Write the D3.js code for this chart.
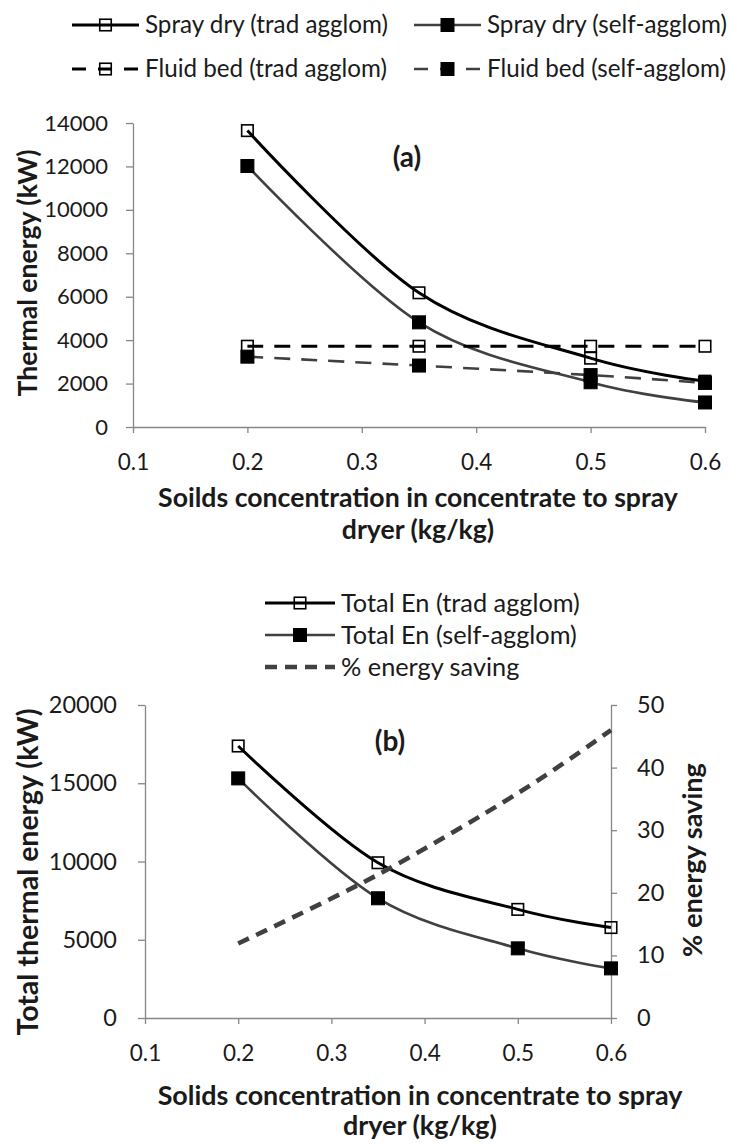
<!DOCTYPE html>
<html>
<head>
<meta charset="utf-8">
<script src="https://cdn.jsdelivr.net/npm/d3@7"></script>
<style>
  body { margin: 0; background: #fff; }
  svg { display: block; }
  text { font-family: Lato, "Open Sans", sans-serif; fill: #1a1a1a; }
</style>
</head>
<body>
<div id="chart"></div>
<script>
// solids concentration (kg/kg)
const xValues = [0.2, 0.35, 0.5, 0.6];

// panel (a) thermal energy, kW
const sprayTrad = [13650, 6180, 3170, 2110];
const spraySelf = [12020, 4820, 2060, 1130];
const fluidTrad = [3720, 3720, 3720, 3720];
const fluidSelf = [3240, 2830, 2390, 2030];

// panel (b) totals, kW, and % saving
const totalTrad = [17380, 9920, 6940, 5780];
const totalSelf = [15310, 7650, 4450, 3170];
const energySaving = [11.9, 22.9, 35.9, 46.0];

const xTicks = [0.1, 0.2, 0.3, 0.4, 0.5, 0.6];
const yTicksA = [0, 2000, 4000, 6000, 8000, 10000, 12000, 14000];
const yTicksB = [0, 5000, 10000, 15000, 20000];
const yTicksB2 = [0, 10, 20, 30, 40, 50];

const W = 729, H = 1144;
const BLACK = "#000", GREY = "#404040", AXIS = "#868686";

const svg = d3.select("#chart").append("svg")
  .attr("width", W).attr("height", H)
  .attr("viewBox", `0 0 ${W} ${H}`);

// scale font size so the text spans the given width
function fitWidth(sel, w) {
  const fs = parseFloat(sel.style("font-size"));
  const cur = sel.node().getComputedTextLength();
  sel.style("font-size", (fs * w / cur).toFixed(2) + "px");
  return fs * w / cur;
}

const zip = (ys) => xValues.map((x, i) => ({ x: x, y: ys[i] }));

function styleAxis(g, fs) {
  g.select(".domain").attr("stroke", AXIS).attr("stroke-width", 1.3);
  g.selectAll(".tick line").attr("stroke", AXIS).attr("stroke-width", 1.3);
  g.selectAll(".tick text")
    .style("font-size", fs + "px")
    .style("font-family", "Lato")
    .attr("fill", "#222");
}

function marker(g, x, y, filled) {
  const s = filled ? 13 : 11.5;
  g.append("rect")
    .attr("x", x - s / 2).attr("y", y - s / 2)
    .attr("width", s).attr("height", s)
    .attr("fill", filled ? "#000" : "none")
    .attr("stroke", "#000")
    .attr("stroke-width", filled ? 1 : 1.6);
}

function drawSeries(g, s, xs, ys) {
  const line = d3.line()
    .x((d) => xs(d.x)).y((d) => ys(d.y))
    .curve(d3.curveCatmullRom.alpha(0));
  g.append("path")
    .datum(zip(s.values))
    .attr("fill", "none")
    .attr("stroke", s.color)
    .attr("stroke-width", s.width)
    .attr("stroke-dasharray", s.dash || null)
    .attr("d", line);
  if (s.marker) {
    zip(s.values).forEach((d) => marker(g, xs(d.x), ys(d.y), s.marker === "filled"));
  }
}

function legendItem(g, x0, x1, y, s, label) {
  g.append("line")
    .attr("x1", x0).attr("x2", x1).attr("y1", y).attr("y2", y)
    .attr("stroke", s.color).attr("stroke-width", s.width)
    .attr("stroke-dasharray", s.legendDash || null);
  if (s.marker) marker(g, (x0 + x1) / 2, y, s.marker === "filled");
  return g.append("text")
    .attr("x", x1 + 6).attr("y", y).attr("dy", "0.35em")
    .style("font-size", "22px")
    .text(label);
}

// ---------- panel (a) ----------
const xA = d3.scaleLinear().domain([0.1, 0.6]).range([133, 705]);
const yA = d3.scaleLinear().domain([0, 14000]).range([427, 123]);

const seriesA = [
  { name: "Spray dry (trad agglom)", values: sprayTrad, color: BLACK, width: 3, marker: "open" },
  { name: "Spray dry (self-agglom)", values: spraySelf, color: GREY, width: 2.6, marker: "filled" },
  { name: "Fluid bed (trad agglom)", values: fluidTrad, color: BLACK, width: 3,
    dash: "16,11", legendDash: "14,12", marker: "open" },
  { name: "Fluid bed (self-agglom)", values: fluidSelf, color: GREY, width: 2.6,
    dash: "16,11", legendDash: "14,12", marker: "filled" },
];

const gA = svg.append("g");

gA.append("g")
  .attr("transform", `translate(${xA.range()[0]},0)`)
  .call(d3.axisLeft(yA).tickValues(yTicksA).tickFormat(d3.format("d"))
    .tickSize(7).tickSizeOuter(0).tickPadding(18))
  .call((g) => styleAxis(g, 22));

gA.append("g")
  .attr("transform", `translate(0,${yA.range()[0]})`)
  .call(d3.axisBottom(xA).tickValues(xTicks).tickFormat(d3.format(".1f"))
    .tickSize(6).tickSizeOuter(0).tickPadding(21))
  .call((g) => styleAxis(g, 22.5));

seriesA.forEach((s) => drawSeries(gA, s, xA, yA));

gA.append("text")
  .attr("x", 407).attr("y", 157).attr("dy", "0.35em")
  .attr("text-anchor", "middle")
  .style("font-size", "28px").style("font-weight", "bold")
  .text("(a)");

const yTitleA = gA.append("text")
  .attr("transform", "translate(28,273) rotate(-90)")
  .attr("text-anchor", "middle").attr("dy", "0.35em")
  .style("font-size", "26px").style("font-weight", "bold")
  .text("Thermal energy (kW)");
fitWidth(yTitleA, 247);

const xTitleA1 = gA.append("text")
  .attr("x", 418).attr("y", 498).attr("dy", "0.35em")
  .attr("text-anchor", "middle")
  .style("font-size", "26px").style("font-weight", "bold")
  .text("Soilds concentration in concentrate to spray");
const fsA = fitWidth(xTitleA1, 520);
gA.append("text")
  .attr("x", 418).attr("y", 530).attr("dy", "0.35em")
  .attr("text-anchor", "middle")
  .style("font-size", fsA + "px").style("font-weight", "bold")
  .text("dryer (kg/kg)");

// legend (a)
const legA = svg.append("g");
const rowsA = [25, 69];
const colsA = [[72, 139], [414, 481]];
let legFs = 22;
seriesA.forEach((s, i) => {
  const c = colsA[i % 2];
  const t = legendItem(legA, c[0], c[1], rowsA[Math.floor(i / 2)], s, s.name);
  if (i === 0) legFs = fitWidth(t, 243);
  else t.style("font-size", legFs + "px");
});

// ---------- panel (b) ----------
const xB = d3.scaleLinear().domain([0.1, 0.6]).range([145, 611]);
const yB = d3.scaleLinear().domain([0, 20000]).range([1018, 705]);
const yB2 = d3.scaleLinear().domain([0, 50]).range([1018, 705]);

const seriesB = [
  { name: "Total En (trad agglom)", values: totalTrad, color: BLACK, width: 3, marker: "open", axis: yB },
  { name: "Total En (self-agglom)", values: totalSelf, color: GREY, width: 2.6, marker: "filled", axis: yB },
  { name: "% energy saving", values: energySaving, color: GREY, width: 4.6,
    dash: "12,8", legendDash: "12,8", axis: yB2 },
];

const gB = svg.append("g");

gB.append("g")
  .attr("transform", `translate(${xB.range()[0]},0)`)
  .call(d3.axisLeft(yB).tickValues(yTicksB).tickFormat(d3.format("d"))
    .tickSize(7).tickSizeOuter(0).tickPadding(21))
  .call((g) => styleAxis(g, 23.5));

gB.append("g")
  .attr("transform", `translate(${xB.range()[1]},0)`)
  .call(d3.axisRight(yB2).tickValues(yTicksB2).tickSize(6).tickSizeOuter(0).tickPadding(20))
  .call((g) => styleAxis(g, 23.5));

gB.append("g")
  .attr("transform", `translate(0,${yB.range()[0]})`)
  .call(d3.axisBottom(xB).tickValues(xTicks).tickFormat(d3.format(".1f"))
    .tickSize(6).tickSizeOuter(0).tickPadding(21))
  .call((g) => styleAxis(g, 22.5));

seriesB.forEach((s) => drawSeries(gB, s, xB, s.axis));

gB.append("text")
  .attr("x", 390).attr("y", 741).attr("dy", "0.35em")
  .attr("text-anchor", "middle")
  .style("font-size", "28px").style("font-weight", "bold")
  .text("(b)");

const yTitleB = gB.append("text")
  .attr("transform", "translate(28,872) rotate(-90)")
  .attr("text-anchor", "middle").attr("dy", "0.35em")
  .style("font-size", "26px").style("font-weight", "bold")
  .text("Total thermal energy (kW)");
fitWidth(yTitleB, 327);

const yTitleB2 = gB.append("text")
  .attr("transform", "translate(692,860) rotate(-90)")
  .attr("text-anchor", "middle").attr("dy", "0.35em")
  .style("font-size", "26px").style("font-weight", "bold")
  .text("% energy saving");
fitWidth(yTitleB2, 194);

const xTitleB1 = gB.append("text")
  .attr("x", 420).attr("y", 1096).attr("dy", "0.35em")
  .attr("text-anchor", "middle")
  .style("font-size", "26px").style("font-weight", "bold")
  .text("Solids concentration in concentrate to spray");
const fsB = fitWidth(xTitleB1, 525);
gB.append("text")
  .attr("x", 420).attr("y", 1126).attr("dy", "0.35em")
  .attr("text-anchor", "middle")
  .style("font-size", fsB + "px").style("font-weight", "bold")
  .text("dryer (kg/kg)");

// legend (b)
const legB = svg.append("g");
const rowsB = [603, 635, 667];
seriesB.forEach((s, i) => {
  const t = legendItem(legB, 265, 335, rowsB[i], s, s.name);
  if (i === 0) legFs = fitWidth(t, 239);
  else t.style("font-size", legFs + "px");
});
</script>
</body>
</html>
